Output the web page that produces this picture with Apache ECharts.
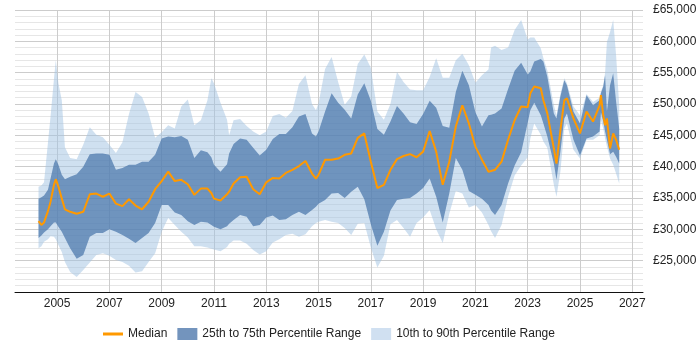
<!DOCTYPE html>
<html>
<head>
<meta charset="utf-8">
<title>Salary percentiles</title>
<script src="https://cdn.jsdelivr.net/npm/echarts@6/dist/echarts.min.js"></script>
<style>
  html, body { margin: 0; padding: 0; background: #fff; }
  #chart { width: 700px; height: 350px; }
</style>
</head>
<body>
<div id="chart"></div>
<script>
// sample dates (decimal years)
const years = [
  2004.29, 2004.4, 2004.5, 2004.65, 2004.75, 2004.88, 2004.95, 2005.05, 2005.18, 2005.3,
  2005.5, 2005.75, 2006.0, 2006.25, 2006.5, 2006.75, 2007.0, 2007.25, 2007.5, 2007.75,
  2008.0, 2008.25, 2008.5, 2008.75, 2009.0, 2009.25, 2009.5, 2009.75, 2010.0, 2010.25,
  2010.5, 2010.75, 2010.9, 2011.0, 2011.25, 2011.5, 2011.58, 2011.75, 2012.0, 2012.25,
  2012.5, 2012.75, 2013.0, 2013.25, 2013.5, 2013.75, 2014.0, 2014.25, 2014.5, 2014.75,
  2014.9, 2015.0, 2015.25, 2015.5, 2015.75, 2016.0, 2016.25, 2016.5, 2016.75, 2017.0,
  2017.25, 2017.5, 2017.75, 2018.0, 2018.25, 2018.5, 2018.75, 2019.0, 2019.25, 2019.5,
  2019.75, 2020.0, 2020.25, 2020.5, 2020.75, 2021.0, 2021.25, 2021.5, 2021.6, 2021.75,
  2022.0, 2022.25, 2022.5, 2022.75, 2023.0, 2023.1, 2023.25, 2023.5, 2023.6, 2023.75,
  2024.0, 2024.1, 2024.25, 2024.4, 2024.5, 2024.75, 2025.0, 2025.25, 2025.5, 2025.75,
  2025.8, 2025.89, 2025.96, 2026.03, 2026.15, 2026.27, 2026.38, 2026.5
];

const p10 = [
  27000, 27300, 28000, 28400, 28900, 28800, 28400, 27500, 26400, 24800,
  23200, 22400, 23500, 24700, 25900, 26200, 25800, 25100, 24800, 24200,
  23100, 23300, 24800, 26200, 29600, 31800, 30700, 29600, 28700, 27300,
  27300, 27100, 26900, 26800, 26500, 27200, 27700, 28200, 28200, 27700,
  26700, 26000, 26500, 27900, 28400, 29100, 29300, 28800, 29200, 30500,
  31000, 31200, 31500, 31200, 31000, 30200, 29100, 30900, 31000, 27100,
  23900, 25800, 30800, 31500, 30200, 28800, 31000, 31900, 33100, 30000,
  27800, 32500, 36100, 35700, 33500, 33900, 32700, 30700, 29700, 28600,
  30700, 35200, 38600, 40200, 41500, 44500, 46900, 45100, 44000, 43000,
  37100, 35200, 39200, 46100, 46900, 42700, 41300, 44300, 44300, 45000,
  47400, 46100, 44500, 43200, 41300, 40300, 38900, 37300
];

const p25 = [
  28600, 29000, 29500, 30000, 30500, 31100, 31100, 30400, 29600, 28600,
  27000, 25300, 25900, 28800, 29400, 29400, 30000, 29600, 29100, 28500,
  27800, 28600, 29400, 31000, 33900, 33900, 32700, 32300, 31300, 30700,
  31200, 31100, 30700, 30400, 30000, 30500, 30900, 31500, 32300, 32000,
  30500, 30700, 31900, 32200, 31500, 31600, 32300, 32800, 32300, 33100,
  33600, 34100, 34700, 35700, 35800, 35000, 36000, 36800, 34800, 30800,
  27400, 29600, 33000, 34700, 34900, 35000, 35700, 36600, 38100, 35200,
  31100, 35700, 41400, 39500, 36100, 35500, 34900, 33900, 33000, 32300,
  33900, 37300, 40200, 42300, 47000, 49000, 50200, 48200, 46900, 44800,
  40500, 37900, 42400, 47700, 48500, 44300, 41800, 44500, 44800, 45600,
  48700, 47200, 45600, 44300, 42000, 42400, 41600, 40500
];

const median = [
  31300, 30700, 31100, 32900, 34400, 37100, 38000, 36800, 34900, 33200,
  32800, 32500, 32800, 35600, 35700, 35200, 35700, 34100, 33700, 34800,
  33800, 33200, 34400, 36400, 37700, 39200, 37700, 37900, 37200, 35500,
  36500, 36500, 35800, 34900, 34600, 35600, 36000, 37300, 38300, 38400,
  36400, 35600, 37500, 38200, 38100, 39000, 39500, 40100, 40900, 38900,
  38100, 38700, 41100, 41100, 41300, 41900, 42100, 44600, 45300, 40800,
  36600, 37100, 39500, 41200, 41700, 42000, 41500, 42400, 45700, 42400,
  37100, 40800, 46400, 49800, 46900, 43200, 41100, 39200, 39300, 39500,
  40800, 44300, 47400, 49600, 49500, 51700, 52800, 52500, 50600, 48500,
  42900, 40500, 45800, 50600, 50900, 47700, 45300, 48800, 47200, 49800,
  51400, 48200, 46600, 47700, 42900, 45300, 44300, 42700
];

const p75 = [
  34900, 35100, 35400, 36300, 38100, 40500, 41200, 40300, 38700, 38000,
  38400, 38800, 40000, 42000, 42100, 42100, 41900, 39500, 39800, 40300,
  40300, 40800, 40800, 41900, 44500, 44800, 44700, 44900, 44300, 41400,
  42600, 42300, 41500, 40300, 39200, 40400, 42100, 43600, 44500, 44300,
  43000, 41800, 42700, 44400, 45200, 45200, 46300, 48000, 48400, 45300,
  44800, 45600, 48800, 51700, 50200, 49100, 47700, 51500, 53300, 50500,
  46000, 45100, 47200, 49700, 48500, 47100, 46800, 48400, 50500, 49400,
  46500, 46200, 51900, 55300, 53000, 48700, 46400, 48200, 48300, 48500,
  49300, 52400, 55300, 56600, 54700, 55200, 56800, 57200, 56800, 54400,
  48500, 47700, 51200, 53800, 53000, 48800, 46900, 51400, 49800, 50600,
  51700, 52800, 54600, 48800, 53000, 54900, 50400, 46100
];

const p90 = [
  36800, 37000, 37500, 43800, 48000, 54000, 57000, 53300, 50600, 43100,
  41400, 41200, 43500, 46300, 45100, 44700, 43500, 42200, 43900, 48400,
  51900, 51100, 48500, 44600, 45500, 46600, 46100, 49600, 50700, 46600,
  47400, 50600, 54100, 53300, 50200, 47500, 45000, 47400, 47600, 46500,
  45600, 45000, 45600, 48100, 48400, 47800, 48900, 53200, 54600, 50000,
  49000, 50100, 55600, 57500, 53500, 49900, 51200, 56400, 57900, 55800,
  48800, 47500, 50000, 55100, 53500, 52300, 52200, 52200, 54300, 57300,
  54200, 54200, 57000, 58000, 56200, 53400, 54600, 55500, 59000, 59300,
  58600, 59000, 61800, 63400, 60300, 60600, 60600, 58900, 57300, 55400,
  49800, 48200, 51600, 54100, 53300, 49600, 48200, 51600, 50300, 51000,
  52000, 53000, 55000, 59900, 61500, 63400, 57800, 49800
];

const yearTicks = [2005, 2007, 2009, 2011, 2013, 2015, 2017, 2019, 2021, 2023, 2025, 2027];

const LIGHT = 'rgba(160,193,226,0.5)';
const DARK = 'rgba(70,115,170,0.7)';
const ORANGE = '#ff9900';
const FONT = '"Liberation Sans", Arial, sans-serif';

// band between two percentile lists, drawn as one polygon through the axes
const bandSeries = (name, hi, lo, color) => ({
  name,
  type: 'custom',
  silent: true,
  clip: true,
  itemStyle: { color },
  data: [[years[0], lo[0]]],
  renderItem: (params, api) => {
    const top = years.map((y, i) => api.coord([y, hi[i]]));
    const bottom = years.map((y, i) => api.coord([y, lo[i]])).reverse();
    return {
      type: 'polygon',
      shape: { points: top.concat(bottom) },
      style: { fill: color }
    };
  }
});

const chart = echarts.init(document.getElementById('chart'));
const option = {
  animation: false,
  textStyle: { fontFamily: FONT },
  grid: { left: 15, right: 57, top: 10, bottom: 58 },
  legend: {
    left: 103,
    bottom: 10,
    padding: 0,
    itemWidth: 20,
    itemHeight: 12,
    itemGap: 10,
    textStyle: { fontSize: 12, color: '#222', fontFamily: FONT },
    data: [
      { name: 'Median', icon: 'path://M0,0 L20,0 L20,3 L0,3 Z', itemStyle: { color: ORANGE } },
      { name: '25th to 75th Percentile Range', icon: 'rect', itemStyle: { color: '#7394bd' } },
      { name: '10th to 90th Percentile Range', icon: 'rect', itemStyle: { color: '#d0e0f1' } }
    ]
  },
  xAxis: {
    type: 'value',
    min: 2003.39,
    max: 2027.41,
    axisLine: { show: true, lineStyle: { color: '#111', width: 1 } },
    axisTick: { show: false, customValues: yearTicks },
    axisLabel: {
      customValues: yearTicks,
      formatter: v => String(v),
      color: '#222',
      fontSize: 12,
      margin: 6
    },
    splitLine: { show: true, lineStyle: { color: '#cccccc' } }
  },
  yAxis: {
    type: 'value',
    position: 'right',
    min: 20000,
    max: 65000,
    interval: 5000,
    axisLine: { show: false },
    axisTick: { show: false },
    axisLabel: {
      color: '#222',
      fontSize: 12,
      margin: 10,
      formatter: v => v === 20000 ? '' : '£' + String(v).replace(/\B(?=(\d{3})+(?!\d))/g, ',')
    },
    splitLine: { lineStyle: { color: '#cccccc' } },
    minorTick: { show: false, splitNumber: 5 },
    minorSplitLine: { show: true, lineStyle: { color: '#e6e6e6' } }
  },
  series: [
    bandSeries('10th to 90th Percentile Range', p90, p10, LIGHT),
    bandSeries('25th to 75th Percentile Range', p75, p25, DARK),
    {
      name: 'Median',
      type: 'line',
      data: years.map((y, i) => [y, median[i]]),
      symbol: 'none',
      color: ORANGE,
      lineStyle: { color: ORANGE, width: 2 },
      z: 5,
      emphasis: { disabled: true }
    }
  ]
};
chart.setOption(option);
</script>
</body>
</html>
